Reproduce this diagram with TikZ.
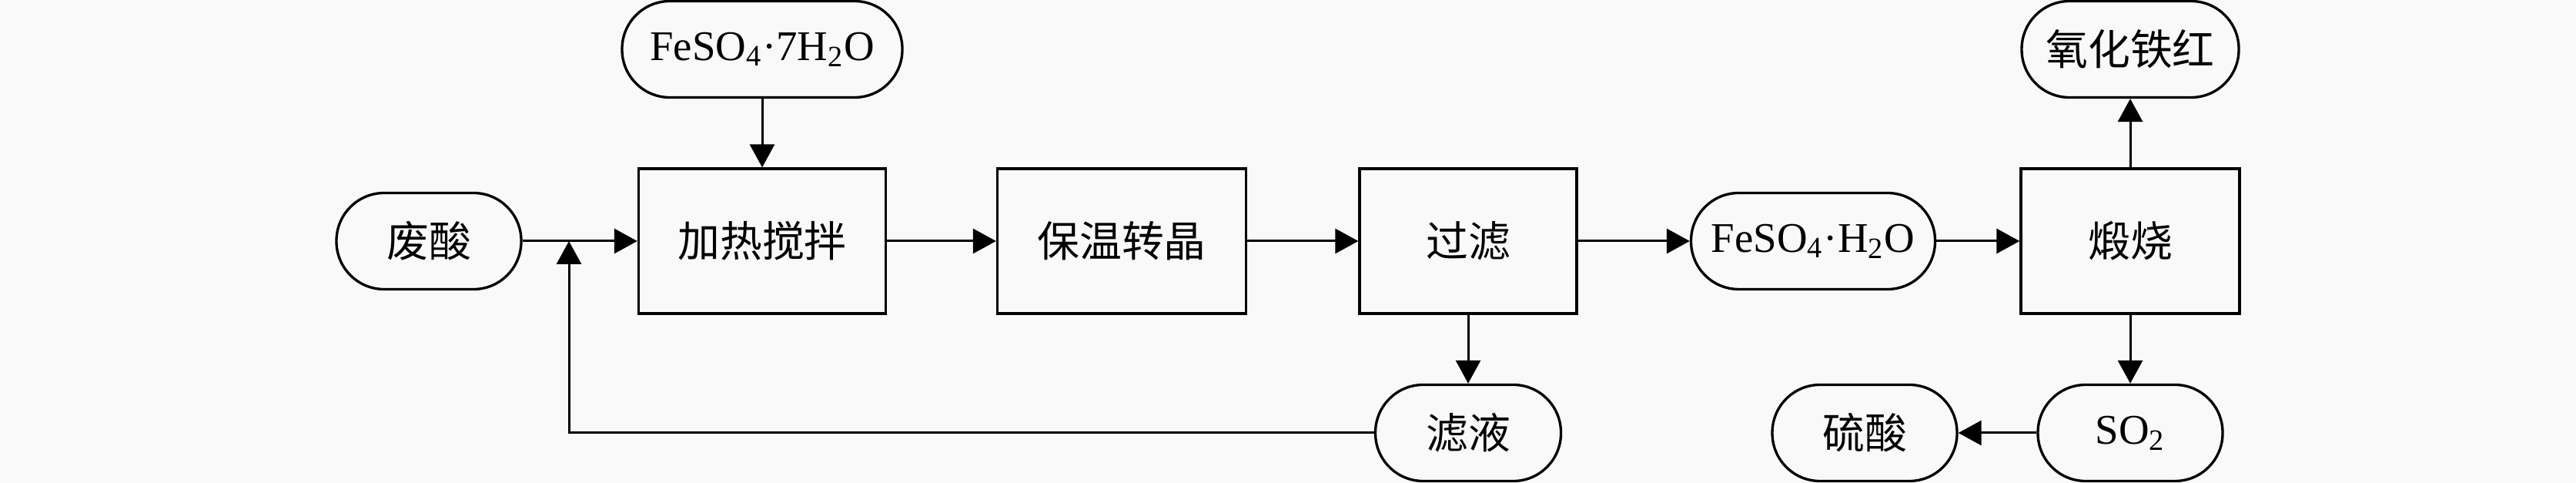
\documentclass[tikz,border=0pt]{standalone}
\usepackage{fontspec}
\setmainfont{Liberation Serif}
\newfontfamily\cjk{Noto Sans CJK SC}
\usetikzlibrary{arrows.meta}
\definecolor{bggrey}{RGB}{249,249,249}
\newcommand{\dn}[1]{\textsubscript{#1}}

\tikzset{
  proc/.style={draw, line width=0.95pt, minimum width=#1, minimum height=1.88cm,
    inner sep=0pt, font=\fontsize{15.6}{18}\selectfont\cjk},
  term/.style={draw, line width=0.95pt, rounded corners=0.62cm, minimum width=#1,
    minimum height=1.25cm, inner sep=0pt, font=\fontsize{15.6}{18}\selectfont},
}

\begin{document}
\begin{tikzpicture}[-{Triangle[length=0.3cm,width=0.32cm]},line width=0.85pt]
              \fill[bggrey] (0,0) rectangle (33.46,6.27);
              \useasboundingbox (0,0) rectangle (33.46,6.27);

              \node[term=3.64cm] (feso7) at ( 9.90, 5.63) {FeSO\dn{4}·7H\dn{2}O};
              \node[term=2.40cm] (fs)    at ( 5.57, 3.14) {\cjk 废酸};
              \node[proc=3.21cm] (heat)  at ( 9.90, 3.14) {加热搅拌};
              \node[proc=3.23cm] (keep)  at (14.57, 3.14) {保温转晶};
              \node[proc=2.82cm] (filt)  at (19.07, 3.14) {过滤};
              \node[term=2.41cm] (liq)   at (19.07, 0.65) {\cjk 滤液};
              \node[term=3.17cm] (mono)  at (23.55, 3.14) {FeSO\dn{4}·H\dn{2}O};
              \node[proc=2.84cm] (calc)  at (27.67, 3.14) {煅烧};
              \node[term=2.82cm] (red)   at (27.67, 5.63) {\cjk 氧化铁红};
              \node[term=2.40cm] (so2)   at (27.67, 0.65) {SO\dn{2}};
              \node[term=2.40cm] (acid)  at (24.22, 0.65) {\cjk 硫酸};
              \coordinate (jn) at (7.39, 3.14);

              \path (feso7) edge (heat);
              \path (fs)    edge (heat);
              \path (heat)  edge (keep);
              \path (keep)  edge (filt);
              \path (filt)  edge (mono);
              \path (mono)  edge (calc);
              \path (calc)  edge (red);
              \path (calc)  edge (so2);
              \path (so2)   edge (acid);
              \path (filt)  edge (liq);

              \draw (liq) -| (jn);
          \end{tikzpicture}
\end{document}
